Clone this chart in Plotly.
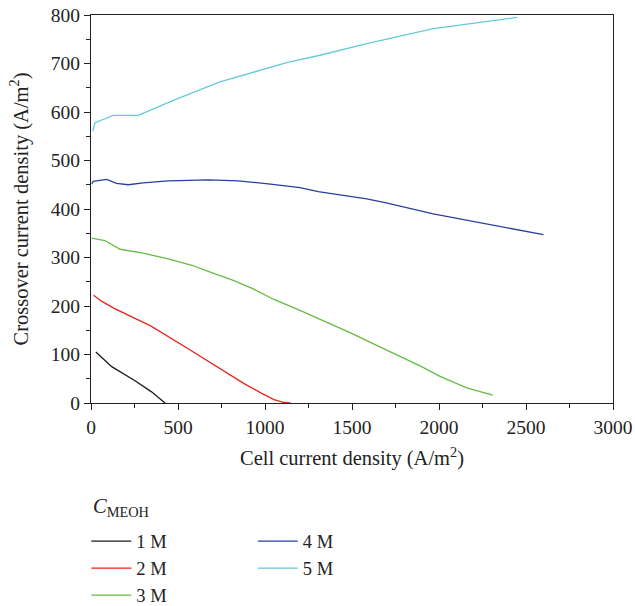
import plotly.graph_objects as go

# Data
x_1m = [28, 60, 119, 253, 348, 425]
y_1m = [105, 95, 75, 46, 23, 0]

x_2m = [15, 60, 133, 343, 535, 727, 880, 976, 1052, 1109, 1147]
y_2m = [222, 210, 195, 159, 117, 75, 40, 21, 7, 1, 0]

x_3m = [4, 80, 167, 300, 444, 580, 693, 810, 923, 1048, 1201, 1350, 1489, 1630, 1776, 1900, 2006, 2080, 2159, 2309]
y_3m = [340, 335, 317, 309, 297, 284, 269, 254, 237, 214, 191, 168, 145, 121, 96, 75, 55, 43, 31, 16]

x_4m = [4, 13, 90, 147, 214, 300, 444, 674, 846, 1019, 1201, 1306, 1585, 1690, 1967, 2351, 2600]
y_4m = [452, 457, 461, 453, 450, 454, 458, 460, 458, 452, 444, 436, 421, 413, 390, 364, 347]

x_5m = [10, 23, 128, 272, 473, 741, 1125, 1316, 1585, 1967, 2450]
y_5m = [560, 578, 593, 593, 624, 662, 702, 717, 741, 772, 795]

series_names = ["1 M", "2 M", "3 M", "4 M", "5 M"]
series_colors = ["#1a1a1a", "#e8231f", "#66bb44", "#2a3f9d", "#66c9da"]
legend_title = "<i>C</i><sub>MEOH</sub>"

xs = [x_1m, x_2m, x_3m, x_4m, x_5m]
ys = [y_1m, y_2m, y_3m, y_4m, y_5m]

font_family = "Liberation Serif"

fig = go.Figure()
for i, (name, color, xv, yv) in enumerate(zip(series_names, series_colors, xs, ys)):
    fig.add_trace(go.Scatter(
        x=xv, y=yv, mode="lines", name=name,
        line=dict(color=color, width=1.3),
        legend="legend" if i < 3 else "legend2",
        legendgroup=name,
    ))

axis_common = dict(
    showgrid=False, zeroline=False, showline=True, linecolor="#222", linewidth=1.2,
    mirror=True, ticks="outside", ticklen=6, tickwidth=1.2, tickcolor="#222",
    tickfont=dict(family=font_family, size=19.5, color="#222"),
    automargin=False,
)

fig.update_layout(
    width=635, height=606,
    margin=dict(l=91, r=22, t=15, b=203, autoexpand=False),
    paper_bgcolor="white", plot_bgcolor="white",
    font=dict(family=font_family, size=19, color="#222"),
    xaxis=dict(range=[0, 3000], dtick=500,
               minor=dict(dtick=250, ticks="outside", ticklen=4, tickcolor="#222"),
               title=dict(text="Cell current density (A/m<sup>2</sup>)", font=dict(size=20.5), standoff=14),
               **axis_common),
    yaxis=dict(range=[0, 800], dtick=100,
               minor=dict(dtick=50, ticks="outside", ticklen=4, tickcolor="#222"),
               title=dict(text="Crossover current density (A/m<sup>2</sup>)", font=dict(size=20.5), standoff=16),
               **axis_common),
    legend=dict(
        x=-0.009, y=-0.308, xanchor="left", yanchor="top",
        orientation="v", tracegroupgap=0, itemwidth=40,
        font=dict(size=18.5), bgcolor="rgba(0,0,0,0)",
    ),
    legend2=dict(
        x=0.31, y=-0.308, xanchor="left", yanchor="top",
        orientation="v", tracegroupgap=0, itemwidth=40,
        font=dict(size=18.5), bgcolor="rgba(0,0,0,0)",
    ),
    annotations=[dict(
        text=legend_title, xref="paper", yref="paper",
        x=0.0, y=-0.232, xanchor="left", yanchor="top",
        showarrow=False, font=dict(size=20.5, family=font_family, color="#222"),
    )],
)

fig.write_html("out.html")
